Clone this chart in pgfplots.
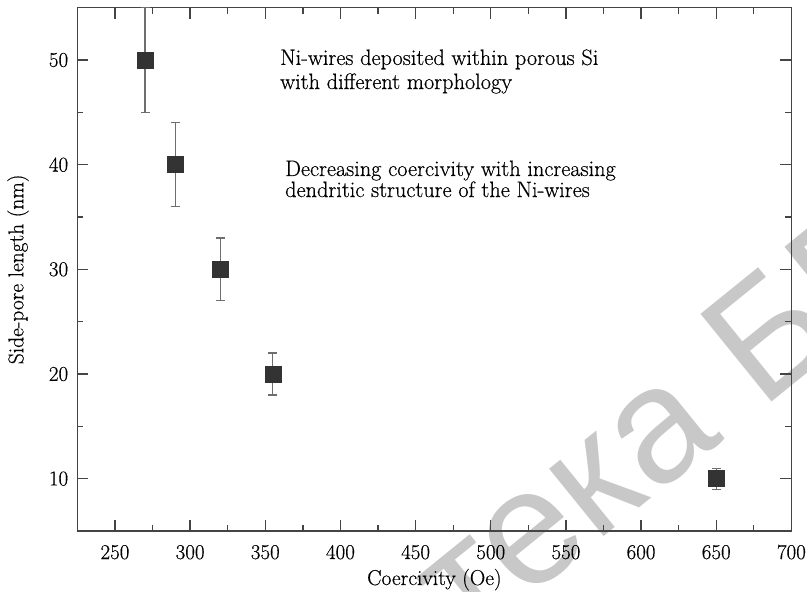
\documentclass[border=0pt]{standalone}
\usepackage{fontspec}
\setmainfont{Latin Modern Roman}[FakeBold=0.45]
\usepackage{pgfplots}
\pgfplotsset{compat=1.18}
\usetikzlibrary{backgrounds}
\newfontfamily\wmfont{Liberation Sans}
\definecolor{axgray}{RGB}{68,68,68}
\definecolor{mkgray}{RGB}{51,51,51}
\definecolor{errgray}{RGB}{110,110,110}
\definecolor{wmgray}{RGB}{200,200,200}
\pgfplotstableread{
x y e
270 50 5
290 40 4
320 30 3
355 20 2
650 10 1
}\datatable
\begin{document}
\fontsize{22.3bp}{26bp}\selectfont
\begin{tikzpicture}
\begin{axis}[name=ax, scale only axis, width=714bp, height=523.3bp,
  xmin=225, xmax=700, ymin=5, ymax=55,
  xtick={250,300,...,700}, minor xtick={275,325,...,675},
  ytick={10,20,...,50}, minor ytick={15,25,...,45},
  axis line style={axgray, line width=1.5bp},
  every tick/.style={axgray, line width=1.3bp},
  major tick length=11bp, minor tick length=6bp,
  tick align=inside,
  /pgf/number format/assume math mode=true,
  tick label style={font=\fontsize{21bp}{24bp}\selectfont, text=black},
  xticklabel style={anchor=base, yshift=-28bp},
  yticklabel style={anchor=east, inner sep=0pt, xshift=-9bp},
]
\addplot[only marks, mark=square*, mark size=8bp,
  mark options={fill=mkgray, draw=mkgray},
  error bars/.cd, y dir=both, y explicit,
  error bar style={errgray, line width=1.2bp},
  error mark options={rotate=90, errgray, mark size=4.5bp, line width=1.2bp}]
  table[x=x, y=y, y error=e] {\datatable};
\node[anchor=base west, inner sep=0pt] at (axis cs:359.8,49.53) {Ni-wires deposited within porous Si};
\node[anchor=base west, inner sep=0pt] at (axis cs:359.8,47.23) {with different morphology};
\node[anchor=base west, inner sep=0pt] at (axis cs:363.1,38.92) {Decreasing coercivity with increasing};
\node[anchor=base west, inner sep=0pt] at (axis cs:363.1,36.91) {dendritic structure of the Ni-wires};
\end{axis}
\node[rotate=90, font=\fontsize{21.5bp}{24bp}\selectfont] at ([xshift=-59.4bp]ax.west) {Side-pore length (nm)};
\node[anchor=base, font=\fontsize{21.5bp}{24bp}\selectfont] at ([yshift=-54bp]ax.south) {Coercivity (Oe)};
\begin{scope}[on background layer]
\node[wmgray, font=\wmfont\fontsize{164bp}{164bp}\selectfont, rotate=39, anchor=base west, inner sep=0pt] at ([shift={(684bp,120bp)}]ax.south west) {БГУИР};
\node[wmgray, font=\wmfont\fontsize{164bp}{164bp}\selectfont, rotate=39, anchor=base east, inner sep=0pt] at ([shift={(648bp,92bp)}]ax.south west) {Библиотека};
\end{scope}
\pgfresetboundingbox
\path[use as bounding box] ([shift={(-77.4bp,-61bp)}]ax.south west) rectangle ([shift={(15.6bp,7.7bp)}]ax.north east);
\end{tikzpicture}
\end{document}
